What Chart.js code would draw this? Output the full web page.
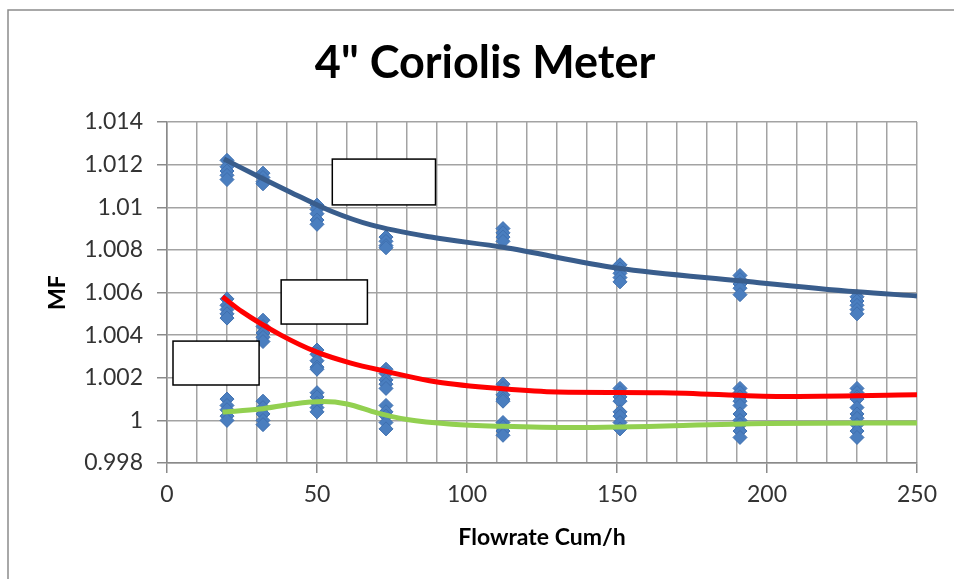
<!DOCTYPE html>
<html>
<head>
<meta charset="utf-8">
<title>4" Coriolis Meter</title>
<script src="https://cdn.jsdelivr.net/npm/chart.js"></script>
<style>
  html, body { margin: 0; padding: 0; background: #ffffff; }
  .chart-area { position: relative; width: 954px; height: 579px; }
</style>
</head>
<body>
<div class="chart-area"><canvas id="mfChart" width="954" height="579"></canvas></div>
<script>
// 측정 유량 (Cum/h)
const flowRates = [20, 32, 50, 73, 112, 151, 191, 230];

// 유량별 MF 측정값 (상단 / 중간 / 하단 그룹)
const mfHigh = [
  [1.0122, 1.0119, 1.0117, 1.0115, 1.0113],
  [1.0116, 1.0114, 1.0112, 1.0111],
  [1.0101, 1.0099, 1.0097, 1.0094, 1.0092],
  [1.0086, 1.0084, 1.0082, 1.0081],
  [1.0090, 1.0088, 1.0086, 1.0084],
  [1.0073, 1.0071, 1.0069, 1.0067, 1.0065],
  [1.0068, 1.0066, 1.0064, 1.0062, 1.0059],
  [1.0058, 1.0056, 1.0054, 1.0052, 1.0050]
];
const mfMid = [
  [1.0057, 1.0054, 1.0052, 1.0050, 1.0048],
  [1.0047, 1.0044, 1.0041, 1.0039, 1.0037],
  [1.0033, 1.0031, 1.0028, 1.0025, 1.0024],
  [1.0024, 1.0022, 1.0019, 1.0017, 1.0015],
  [1.0017, 1.0015, 1.0012, 1.0010, 1.0009],
  [1.0015, 1.0013, 1.0011, 1.0009],
  [1.0015, 1.0013, 1.0011, 1.0009, 1.0007],
  [1.0015, 1.0013, 1.0011, 1.0010]
];
const mfLow = [
  [1.0010, 1.0007, 1.0005, 1.0002, 1.0000],
  [1.0009, 1.0006, 1.0003, 1.0000, 0.9998],
  [1.0013, 1.0011, 1.0008, 1.0006, 1.0004],
  [1.0007, 1.0004, 1.0002, 0.9999, 0.9996],
  [0.9999, 0.9997, 0.9995, 0.9993],
  [1.0004, 1.0002, 0.9999, 0.9996],
  [1.0003, 1.0000, 0.9998, 0.9995, 0.9992],
  [1.0006, 1.0003, 1.0001, 0.9998, 0.9995, 0.9992]
];

// 추세선 (유량, MF)
const highFitX = [19, 30, 41, 55, 68, 88, 112, 150, 191, 230, 250];
const highFitY = [1.01226, 1.01148, 1.01072, 1.0098, 1.00917, 1.0086, 1.00812, 1.00715, 1.00655, 1.00603, 1.00584];
const midFitX = [18.5, 25, 38, 50, 61, 73, 90, 112, 130, 165, 205, 250];
const midFitY = [1.0058, 1.0051, 1.0040, 1.0032, 1.0027, 1.0023, 1.0018, 1.00148, 1.00133, 1.0013, 1.00112, 1.0012];
const lowFitX = [18.5, 31, 42, 52, 60, 70, 80, 95, 112, 135, 200, 250];
const lowFitY = [1.00039, 1.00053, 1.00077, 1.00088, 1.00077, 1.00035, 1.00004, 0.99982, 0.99972, 0.99966, 0.99985, 0.99988];

// 축 눈금
const xTickStep = 10;
const xLabelStep = 50;
const yTickStep = 0.002;

// 빈 텍스트 상자 (데이터 좌표)
const noteBoxes = [
  { x0: 55.1, x1: 89.5, y0: 1.01226, y1: 1.01011 },
  { x0: 38.05, x1: 66.8, y0: 1.00659, y1: 1.00452 },
  { x0: 2.0, x1: 30.7, y0: 1.00372, y1: 1.00166 }
];

function toPoints(groups) {
  const pts = [];
  groups.forEach((vals, i) => {
    vals.forEach(v => pts.push({ x: flowRates[i], y: v }));
  });
  return pts;
}

function toLine(xs, ys) {
  return xs.map((x, i) => ({ x: x, y: ys[i] }));
}

const allReadings = toPoints(mfHigh).concat(toPoints(mfMid), toPoints(mfLow));

// 배경, 외곽선, 제목
const frame = {
  id: 'frame',
  beforeDraw(chart) {
    const c = chart.ctx;
    c.save();
    c.fillStyle = '#ffffff';
    c.fillRect(0, 0, chart.width, chart.height);
    c.strokeStyle = '#8c8c8c';
    c.lineWidth = 1.5;
    c.beginPath();
    c.moveTo(8, chart.height);
    c.lineTo(8, 10);
    c.lineTo(chart.width, 10);
    c.stroke();
    c.restore();
  },
  afterDraw(chart) {
    const c = chart.ctx;
    c.save();
    c.fillStyle = '#000000';
    c.font = 'bold 45px Lato, "Open Sans", sans-serif';
    c.textAlign = 'center';
    c.textBaseline = 'middle';
    c.fillText('4" Coriolis Meter', 485, 63);
    c.restore();
  }
};

// 텍스트 상자
const boxes = {
  id: 'boxes',
  afterDatasetsDraw(chart) {
    const c = chart.ctx;
    const xs = chart.scales.x;
    const ys = chart.scales.y;
    c.save();
    noteBoxes.forEach(b => {
      const l = xs.getPixelForValue(b.x0);
      const r = xs.getPixelForValue(b.x1);
      const t = ys.getPixelForValue(b.y0);
      const btm = ys.getPixelForValue(b.y1);
      c.fillStyle = '#ffffff';
      c.fillRect(l, t, r - l, btm - t);
      c.strokeStyle = '#000000';
      c.lineWidth = 1.5;
      c.strokeRect(l, t, r - l, btm - t);
    });
    c.restore();
  }
};

const lineStyle = {
  type: 'line',
  borderWidth: 5,
  pointRadius: 0,
  fill: false,
  cubicInterpolationMode: 'monotone',
  order: 0
};

new Chart(document.getElementById('mfChart'), {
  type: 'scatter',
  data: {
    datasets: [
      Object.assign({ label: 'high fit', data: toLine(highFitX, highFitY), borderColor: '#395d8c' }, lineStyle),
      Object.assign({ label: 'mid fit', data: toLine(midFitX, midFitY), borderColor: '#ff0000' }, lineStyle),
      Object.assign({ label: 'low fit', data: toLine(lowFitX, lowFitY), borderColor: '#92d050' }, lineStyle),
      {
        label: 'MF',
        data: allReadings,
        pointStyle: 'rectRot',
        pointRadius: 7,
        backgroundColor: '#4a7ebf',
        borderColor: '#3f70b0',
        borderWidth: 1,
        order: 1
      }
    ]
  },
  options: {
    responsive: false,
    animation: false,
    events: [],
    layout: { padding: { top: 122, right: 37, left: 0, bottom: 0 } },
    plugins: {
      legend: { display: false },
      tooltip: { enabled: false },
      title: { display: false }
    },
    scales: {
      x: {
        type: 'linear',
        min: 0,
        max: 250,
        afterFit(scale) { scale.height = 116; },
        ticks: {
          stepSize: xTickStep,
          autoSkip: false,
          maxRotation: 0,
          padding: 8,
          color: '#333333',
          font: { family: 'Lato, "Open Sans", sans-serif', size: 23 },
          callback: v => (v % xLabelStep === 0 ? String(v) : '')
        },
        grid: {
          color: '#a3a3a3',
          lineWidth: 1.5,
          tickLength: 10,
          tickColor: ctx => (ctx.tick && ctx.tick.value % xLabelStep === 0 ? '#8a8a8a' : 'rgba(0,0,0,0)')
        },
        border: { color: '#8a8a8a', width: 1.5 },
        title: {
          display: true,
          text: 'Flowrate Cum/h',
          color: '#000000',
          font: { family: 'Lato, "Open Sans", sans-serif', size: 23, weight: 'bold' },
          padding: { top: 0, bottom: 28 }
        }
      },
      y: {
        min: 0.998,
        max: 1.014,
        afterFit(scale) { scale.width = 167; },
        ticks: {
          stepSize: yTickStep,
          padding: 14,
          color: '#333333',
          font: { family: 'Lato, "Open Sans", sans-serif', size: 23 },
          callback: v => String(Number(v.toFixed(3)))
        },
        grid: {
          color: '#a3a3a3',
          lineWidth: 1.5,
          tickLength: 10,
          tickColor: '#8a8a8a'
        },
        border: { color: '#8a8a8a', width: 1.5 },
        title: {
          display: true,
          text: 'MF',
          color: '#000000',
          font: { family: 'Lato, "Open Sans", sans-serif', size: 23, weight: 'bold' },
          padding: { top: 44, bottom: 0 }
        }
      }
    }
  },
  plugins: [frame, boxes]
});
</script>
</body>
</html>
